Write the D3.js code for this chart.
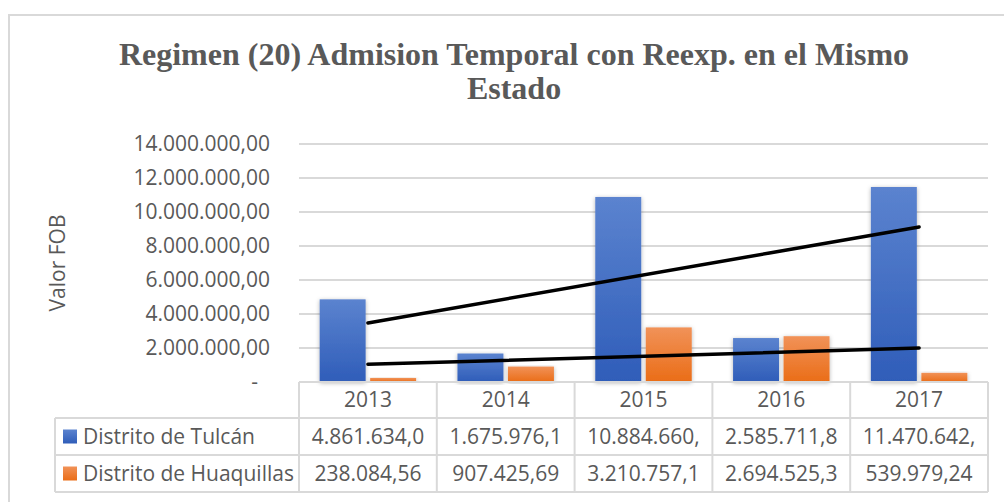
<!DOCTYPE html>
<html>
<head>
<meta charset="utf-8">
<script src="https://cdn.jsdelivr.net/npm/d3@7"></script>
<style>
  body { margin: 0; background: #fff; }
  svg { display: block; }
</style>
</head>
<body>
<svg id="chart"></svg>
<script>
// data
var years = ["2013", "2014", "2015", "2016", "2017"];
var seriesNames = ["Distrito de Tulcán", "Distrito de Huaquillas"];
var tulcan = [4861634.04, 1675976.12, 10884660.35, 2585711.84, 11470642.58];
var huaquillas = [238084.56, 907425.69, 3210757.13, 2694525.31, 539979.24];
var yTicks = [0, 2000000, 4000000, 6000000, 8000000, 10000000, 12000000, 14000000];

var w = 1004, h = 502;
var plot = { left: 299, right: 988, top: 144, bottom: 382 };
var rowH = [36, 37, 37];
var tableLeft = 55;
var textColor = "#595959";
var gridColor = "#d9d9d9";
var font = "'Open Sans', sans-serif";

var colors = [
    { top: "#5b83cf", bottom: "#2f5db9" },
    { top: "#f19258", bottom: "#ea6d17" }
];

var locale = d3.formatLocale({ decimal: ",", thousands: ".", grouping: [3], currency: ["", ""] });
var fmt = locale.format(",.2f");

var svg = d3.select("#chart").attr("width", w).attr("height", h);
var defs = svg.append("defs");

colors.forEach(function (c, i) {
    var g = defs.append("linearGradient").attr("id", "grad" + i)
        .attr("x1", 0).attr("y1", 0).attr("x2", 0).attr("y2", 1);
    g.append("stop").attr("offset", "0%").attr("stop-color", c.top);
    g.append("stop").attr("offset", "100%").attr("stop-color", c.bottom);
});

var shadow = defs.append("filter").attr("id", "shadow")
    .attr("x", "-20%").attr("y", "-10%").attr("width", "140%").attr("height", "120%");
shadow.append("feDropShadow").attr("dx", 0).attr("dy", 1)
    .attr("stdDeviation", 2).attr("flood-color", "#000").attr("flood-opacity", 0.3);

// chart frame (only top/left edges visible)
svg.append("line").attr("x1", 8).attr("x2", w).attr("y1", 15).attr("y2", 15)
    .attr("stroke", gridColor).attr("stroke-width", 2);
svg.append("line").attr("x1", 9).attr("x2", 9).attr("y1", 15).attr("y2", h)
    .attr("stroke", gridColor).attr("stroke-width", 2);

// title
var title = svg.append("text")
    .attr("text-anchor", "middle")
    .attr("font-family", "'Liberation Serif', 'Times New Roman', serif")
    .attr("font-weight", "bold")
    .attr("font-size", "32px")
    .attr("fill", textColor);
title.append("tspan").attr("x", 514).attr("y", 65).text("Regimen (20) Admision Temporal con Reexp. en el Mismo");
title.append("tspan").attr("x", 514).attr("y", 99).text("Estado");

// scales
var x0 = d3.scaleBand().domain(years).range([plot.left, plot.right]).padding(0);
var y = d3.scaleLinear().domain([0, 14000000]).range([plot.bottom, plot.top]);
var bw = x0.bandwidth();
var x1 = d3.scaleBand().domain(seriesNames).range([bw * 0.15, bw * 0.85]).paddingInner(0.09);

// gridlines
svg.append("g").selectAll("line").data(yTicks.filter(function (d) { return d > 0; }))
    .join("line")
    .attr("x1", plot.left).attr("x2", plot.right)
    .attr("y1", function (d) { return y(d); }).attr("y2", function (d) { return y(d); })
    .attr("stroke", gridColor).attr("stroke-width", 2);

// y axis labels
var yAxis = svg.append("g").attr("transform", "translate(" + plot.left + ",0)")
    .call(d3.axisLeft(y).tickValues(yTicks).tickSize(0).tickPadding(29)
        .tickFormat(function (d) { return d === 0 ? "-" : fmt(d); }));
yAxis.select(".domain").remove();
yAxis.selectAll("text")
    .attr("font-family", font).attr("font-size", "21px").attr("fill", textColor)
    .attr("dx", function (d) { return d === 0 ? -12 : 0; });

svg.append("text")
    .attr("transform", "translate(58," + ((plot.top + plot.bottom) / 2) + ") rotate(-90)")
    .attr("text-anchor", "middle").attr("dy", "0.35em")
    .attr("font-family", font).attr("font-size", "21px").attr("fill", textColor)
    .text("Valor FOB");

// bars
var allSeries = [tulcan, huaquillas];
allSeries.forEach(function (vals, si) {
    svg.append("g").selectAll("rect").data(vals).join("rect")
        .attr("x", function (d, i) { return x0(years[i]) + x1(seriesNames[si]); })
        .attr("y", function (d) { return y(d); })
        .attr("width", x1.bandwidth())
        .attr("height", function (d) { return y(0) - y(d); })
        .attr("fill", "url(#grad" + si + ")")
        .attr("filter", "url(#shadow)");
});

// linear trendlines
allSeries.forEach(function (vals) {
    var n = vals.length, mx = (n + 1) / 2, my = d3.mean(vals);
    var num = d3.sum(vals, function (v, i) { return (i + 1 - mx) * (v - my); });
    var den = d3.sum(vals, function (v, i) { return (i + 1 - mx) * (i + 1 - mx); });
    var slope = num / den, icpt = my - slope * mx;
    var pts = [0, n - 1].map(function (i) {
        return [x0(years[i]) + bw / 2, y(icpt + slope * (i + 1))];
    });
    svg.append("path").attr("d", d3.line()(pts))
        .attr("stroke", "#000").attr("stroke-width", 3.5)
        .attr("stroke-linecap", "round").attr("fill", "none");
});

// data table
var rowTop = [plot.bottom, plot.bottom + rowH[0], plot.bottom + rowH[0] + rowH[1]];
var tableBottom = rowTop[2] + rowH[2];
var table = svg.append("g");

// horizontal lines
table.append("line").attr("x1", plot.left).attr("x2", plot.right)
    .attr("y1", rowTop[0]).attr("y2", rowTop[0]);
[rowTop[1], rowTop[2], tableBottom].forEach(function (yy) {
    table.append("line").attr("x1", tableLeft).attr("x2", plot.right).attr("y1", yy).attr("y2", yy);
});
// vertical lines
table.append("line").attr("x1", tableLeft).attr("x2", tableLeft).attr("y1", rowTop[1]).attr("y2", tableBottom);
years.concat([null]).forEach(function (yr) {
    var xx = yr ? x0(yr) : plot.right;
    table.append("line").attr("x1", xx).attr("x2", xx).attr("y1", rowTop[0]).attr("y2", tableBottom);
});
table.selectAll("line").attr("stroke", gridColor).attr("stroke-width", 2);

// year row
table.append("g").selectAll("text").data(years).join("text")
    .attr("x", function (d) { return x0(d) + bw / 2; })
    .attr("y", rowTop[0] + rowH[0] / 2)
    .attr("dy", "0.35em").attr("text-anchor", "middle")
    .attr("font-family", font).attr("font-size", "21px").attr("fill", textColor)
    .text(function (d) { return d; });

// value rows
allSeries.forEach(function (vals, si) {
    var cy = rowTop[si + 1] + rowH[si + 1] / 2;
    table.append("rect").attr("x", 63).attr("y", cy - 7).attr("width", 14).attr("height", 14)
        .attr("fill", "url(#grad" + si + ")");
    table.append("text").attr("x", 83).attr("y", cy).attr("dy", "0.35em")
        .attr("font-family", font).attr("font-size", "21px").attr("fill", textColor)
        .text(seriesNames[si]);
    table.append("g").selectAll("text").data(vals).join("text")
        .attr("x", function (d, i) { return x0(years[i]) + bw / 2; })
        .attr("y", cy).attr("dy", "0.35em").attr("text-anchor", "middle")
        .attr("font-family", font).attr("font-size", "21px").attr("fill", textColor)
        .text(function (d) { return fmt(d); })
        .each(function () {
            // cut the text like the spreadsheet does when it does not fit
            var t = d3.select(this), s = t.text();
            while (this.getComputedTextLength() > bw - 14 && s.length > 1) {
                s = s.slice(0, -1);
                t.text(s);
            }
        });
});
</script>
</body>
</html>
